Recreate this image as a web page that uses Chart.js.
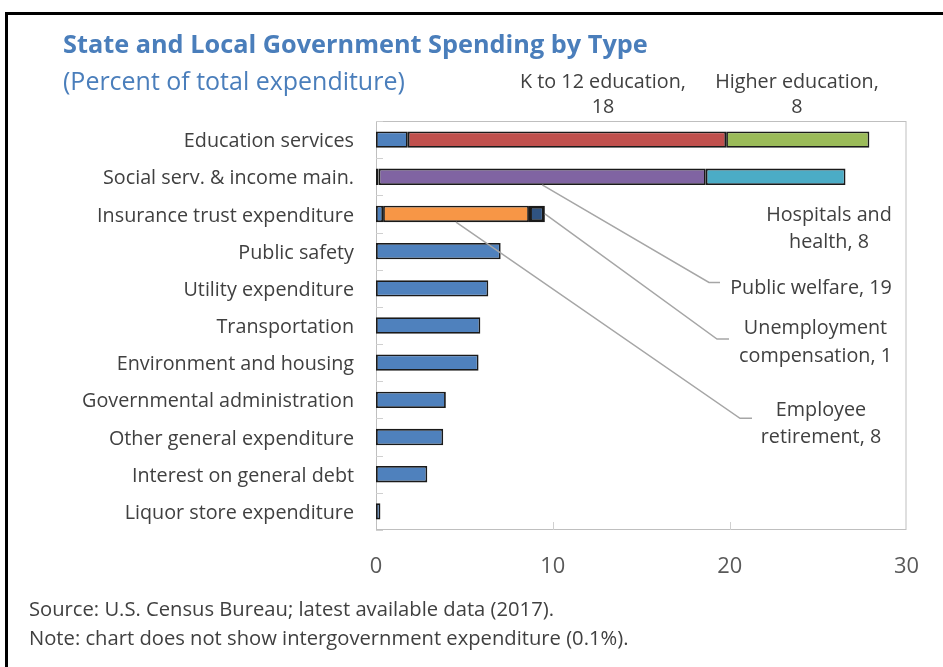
<!DOCTYPE html>
<html>
<head>
<meta charset="utf-8">
<script src="https://cdn.jsdelivr.net/npm/chart.js@4.4.1/dist/chart.umd.min.js"></script>
<style>
html,body{margin:0;padding:0;background:#fff;}
#wrap{position:relative;width:943px;height:667px;overflow:hidden;font-family:"Open Sans","Noto Sans",sans-serif;}
#frame{position:absolute;left:5px;top:12px;width:1000px;height:800px;border:3px solid #000;box-sizing:border-box;}
#c{position:absolute;left:0;top:0;}
.t{position:absolute;white-space:nowrap;color:#404040;line-height:1;}
.c{transform:translate(-50%,-50%);text-align:center;}
</style>
</head>
<body>
<div id="wrap">
  <div id="frame"></div>
  <canvas id="c" width="943" height="667"></canvas>
  <div class="t" id="title" style="left:63px;top:44px;transform:translateY(-50%);font-weight:700;color:#4A7EBB">State and Local Government Spending by Type</div>
  <div class="t" id="subtitle" style="left:63px;top:80px;transform:translateY(-50%);color:#4A7EBB">(Percent of total expenditure)</div>
  <div class="t" id="source" style="left:29px;top:608px;transform:translateY(-50%)">Source: U.S. Census Bureau; latest available data (2017).</div>
  <div class="t" id="note" style="left:29px;top:637px;transform:translateY(-50%)">Note: chart does not show intergovernment expenditure (0.1%).</div>
  <div id="annos"></div>
</div>
<script>
// ---------- DATA ----------
const categories = [
  "Education services",
  "Social serv. & income main.",
  "Insurance trust expenditure",
  "Public safety",
  "Utility expenditure",
  "Transportation",
  "Environment and housing",
  "Governmental administration",
  "Other general expenditure",
  "Interest on general debt",
  "Liquor store expenditure"
];
const otherSpending       = [1.8, 0.15, 0.4, 7.05, 6.35, 5.9, 5.8, 3.95, 3.8, 2.9, 0.25];
const k12Education        = [18.0, null, null, null, null, null, null, null, null, null, null];
const higherEducation     = [8.1, null, null, null, null, null, null, null, null, null, null];
const publicWelfare       = [null, 18.5, null, null, null, null, null, null, null, null, null];
const hospitalsHealth     = [null, 7.9, null, null, null, null, null, null, null, null, null];
const employeeRetirement  = [null, null, 8.25, null, null, null, null, null, null, null, null];
const unemploymentComp    = [null, null, 0.9, null, null, null, null, null, null, null, null];
const xTicks = [0, 10, 20, 30];

// ---------- FONTS ----------
const FONT = '"Open Sans", "Noto Sans", sans-serif';
const mctx = document.createElement('canvas').getContext('2d');
function fitSize(text, width, weight) {
  mctx.font = (weight || 400) + ' 100px ' + FONT;
  return 100 * width / mctx.measureText(text).width;
}
const labelSize = fitSize("Insurance trust expenditure", 257);
const tickSize = fitSize("10", 25);
const titleSize = fitSize("State and Local Government Spending by Type", 585, 700);
const subSize = fitSize("(Percent of total expenditure)", 342);
const noteSize = fitSize("Note: chart does not show intergovernment expenditure (0.1%).", 600);
document.getElementById('title').style.fontSize = titleSize + 'px';
document.getElementById('subtitle').style.fontSize = subSize + 'px';
document.getElementById('source').style.fontSize = noteSize + 'px';
document.getElementById('note').style.fontSize = noteSize + 'px';

// ---------- ANNOTATION LABELS ----------
const annotations = [
  {lines: ["K to 12 education,", "18"], cx: 603, cy: 92.5, lh: 25},
  {lines: ["Higher education,", "8"], cx: 797, cy: 92.5, lh: 25},
  {lines: ["Hospitals and", "health, 8"], cx: 829, cy: 227, lh: 27.4},
  {lines: ["Public welfare, 19"], cx: 811, cy: 285.7, lh: 27},
  {lines: ["Unemployment", "compensation, 1"], cx: 815.5, cy: 341, lh: 28.3},
  {lines: ["Employee", "retirement, 8"], cx: 821, cy: 422, lh: 27.4}
];
const annoBox = document.getElementById('annos');
annotations.forEach(a => {
  const d = document.createElement('div');
  d.className = 't c';
  d.style.left = a.cx + 'px';
  d.style.top = a.cy + 'px';
  d.style.fontSize = labelSize + 'px';
  d.style.lineHeight = a.lh + 'px';
  d.innerHTML = a.lines.join('<br>');
  annoBox.appendChild(d);
});

// ---------- PLUGINS ----------
const leaders = [
  {ds: 3, idx: 1, anchor: 'bottomMid', elbow: [709, 282.5], end: [720, 282.5]},
  {ds: 6, idx: 2, anchor: 'right', elbow: [717, 339], end: [729, 339]},
  {ds: 5, idx: 2, anchor: 'bottomMid', elbow: [740, 418.3], end: [752, 418.3]}
];
const framePlugin = {
  id: 'framePlugin',
  beforeDatasetsDraw(chart) {
    const {ctx, chartArea: a, scales: {x, y}} = chart;
    ctx.save();
    ctx.strokeStyle = '#BFBFBF';
    ctx.lineWidth = 1;
    ctx.strokeRect(a.left + 0.5, a.top + 0.5, a.right - a.left - 1, a.bottom - a.top - 1);
    ctx.strokeStyle = '#D0D0D0';
    ctx.beginPath();
    for (let i = 0; i <= categories.length; i++) {
      const py = Math.round((y.getPixelForValue(i - 0.5))) + 0.5;
      ctx.moveTo(a.left, py); ctx.lineTo(a.left + 7, py);
    }
    xTicks.slice(1, -1).forEach(v => {
      const px = Math.round(x.getPixelForValue(v)) + 0.5;
      ctx.moveTo(px, a.bottom); ctx.lineTo(px, a.bottom - 8);
    });
    ctx.stroke();
    ctx.restore();
  },
  afterDatasetsDraw(chart) {
    const ctx = chart.ctx;
    ctx.save();
    ctx.strokeStyle = '#A6A6A6';
    ctx.lineWidth = 1.5;
    leaders.forEach(l => {
      const el = chart.getDatasetMeta(l.ds).data[l.idx];
      let sx, sy;
      if (l.anchor === 'right') { sx = el.x; sy = el.y; }
      else { sx = (el.x + el.base) / 2; sy = el.y + el.height / 2; }
      ctx.beginPath();
      ctx.moveTo(sx, sy);
      ctx.lineTo(l.elbow[0], l.elbow[1]);
      ctx.lineTo(l.end[0], l.end[1]);
      ctx.stroke();
    });
    ctx.restore();
  }
};

function ds(label, data, color, bw) {
  return {label, data, backgroundColor: color, borderColor: '#1a1a1a', borderWidth: bw || 1.8,
    borderSkipped: false, barPercentage: 0.44, categoryPercentage: 1};
}

new Chart(document.getElementById('c'), {
  type: 'bar',
  data: {
    labels: categories,
    datasets: [
      ds('Other', otherSpending, '#4F81BD'),
      ds('K to 12 education', k12Education, '#C0504D'),
      ds('Higher education', higherEducation, '#9BBB59'),
      ds('Public welfare', publicWelfare, '#8064A2'),
      ds('Hospitals and health', hospitalsHealth, '#4BACC6'),
      ds('Employee retirement', employeeRetirement, '#F79646'),
      ds('Unemployment compensation', unemploymentComp, '#2F5381', 3)
    ]
  },
  options: {
    indexAxis: 'y',
    responsive: false,
    animation: false,
    devicePixelRatio: 1,
    layout: {padding: {left: 0, right: 36, top: 121, bottom: 0}},
    plugins: {legend: {display: false}, tooltip: {enabled: false}},
    scales: {
      x: {
        stacked: true, min: 0, max: 30,
        afterBuildTicks(s) { s.ticks = xTicks.map(v => ({value: v})); },
        ticks: {color: '#595959', font: {family: FONT, size: tickSize}, padding: 24},
        grid: {display: false, drawTicks: false},
        border: {display: false},
        afterFit(s) { s.height = 137; }
      },
      y: {
        stacked: true,
        ticks: {color: '#404040', font: {family: FONT, size: labelSize}, padding: 22, autoSkip: false, labelOffset: 2},
        grid: {display: false, drawTicks: false},
        border: {display: false},
        afterFit(s) { s.width = 376; }
      }
    }
  },
  plugins: [framePlugin]
});
</script>
</body>
</html>
